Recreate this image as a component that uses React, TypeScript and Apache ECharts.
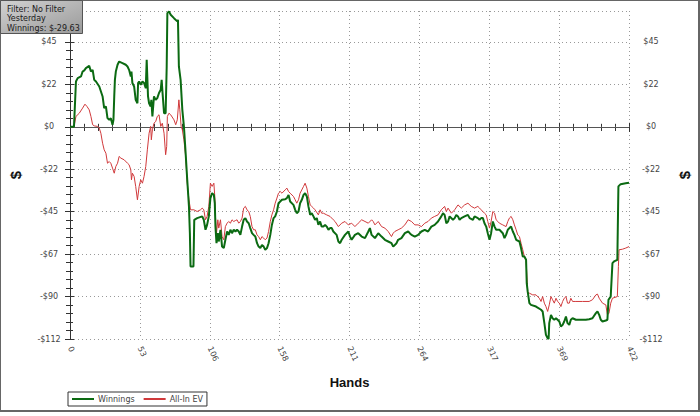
import React, { useEffect, useRef } from "react";
import * as echarts from "echarts";

// [hand, $]
const winnings: [number, number][] = [
  [0, 0], [3, 0], [4.5, 24], [5.8, 25.8], [8.3, 26.7], [9.5, 29.3], [10.8, 29.9], [12, 31.1], [14.5, 32.3], [15.8, 29.3],
  [17.1, 30.2], [18.3, 24.9], [19.6, 24], [22.1, 21.4], [24.6, 16.1], [25.8, 9.9], [27.1, 10.8], [28.3, 4.6], [29.6, 3.7], [30.8, 4.6],
  [32.1, 1.1], [32.8, 3.7], [33.4, 16.1], [33.9, 24.9], [34.6, 29.3], [35.9, 32.9], [37.1, 34.6], [39.6, 33.8], [42.1, 32.9], [43.4, 32],
  [44.6, 30.2], [45.9, 26.7], [46.4, 29.3], [47.1, 23.2], [48.4, 21.4], [49.6, 14.3], [50.9, 12.5], [51.4, 23.2], [52.2, 24], [53.4, 22.3],
  [54.7, 24], [55.9, 23.2], [57.2, 20.5], [57.9, 35.5], [58.9, 16.1], [59.7, 12.5], [60.9, 10.8], [61.4, 14.3], [62.2, 5.5], [63.4, 16.1],
  [64.7, 14.3], [65.9, 15.2], [67.2, 17.9], [68.5, 19.6], [69.2, 24.9], [69.7, 19.6], [71, 7.2], [72.2, 7.2], [73, 32], [73.5, 60.3],
  [74.7, 61.2], [76, 59.4], [78.5, 57.6], [81, 55.9], [81.5, 56.7], [82.2, 32], [83.5, 24.9], [84.8, 9], [86, 0.2], [87.3, -14],
  [88.5, -28.1], [89.8, -42.2], [90.5, -56.4], [91, -74.1], [93.2, -74.1], [93.8, -49.3], [96, -48.4], [99.8, -47.5], [101, -49.3], [102.3, -54.6],
  [103.5, -52], [104.8, -47.5], [106, -37.8], [107.3, -35.2], [108.6, -36.1], [109.3, -40.5], [109.8, -52.9], [110.6, -61.7], [111.6, -56.4], [112.3, -60.8],
  [113.6, -54.6], [114.8, -63.5], [116.1, -64.3], [117.3, -59.9], [118.6, -55.5], [119.8, -57.3], [121.1, -54.6], [122.3, -56.4], [123.6, -54.6], [124.9, -55.5],
  [126.1, -54.6], [127.4, -55.5], [128.6, -57.3], [129.9, -52.9], [131.1, -49.3], [132.4, -48.4], [133.6, -50.2], [134.9, -51.1], [136.1, -53.7], [137.4, -56.4],
  [138.6, -57.3], [139.9, -58.2], [141.2, -61.7], [142.4, -63.5], [143.7, -64.3], [144.9, -62.6], [146.2, -63.5], [147.4, -65.2], [148.7, -64.3], [149.9, -61.7],
  [151.2, -57.3], [152.4, -52], [153.7, -48.4], [154.9, -47.5], [156.2, -44.9], [157.4, -40.5], [158.7, -39.6], [160, -38.7], [162.5, -38.4], [163.7, -37.8],
  [165, -36.1], [166.2, -39.6], [168.7, -41.4], [170, -44], [171.2, -45.8], [172.5, -44.9], [173.7, -40.5], [175, -38.7], [176.3, -36.1], [177.5, -35.2],
  [178.8, -36.9], [180, -42.2], [181.3, -46.7], [182.5, -45.8], [183.8, -47.5], [185, -49.3], [186.3, -48.4], [187.5, -52], [188.8, -50.2], [190, -52.9],
  [191.3, -52.9], [192.6, -52], [193.8, -52.9], [195.1, -54.6], [196.3, -53.7], [197.6, -53.7], [198.8, -55.5], [201.3, -57.3], [202.6, -60.8], [203.9, -61.7],
  [205.1, -59.9], [207.6, -57.3], [210.1, -55.5], [211.4, -58.2], [212.6, -59.9], [215.1, -57.3], [217.6, -56.4], [220.2, -58.2], [222.7, -59], [225.2, -55.5],
  [226.4, -53.7], [227.7, -57.3], [230.2, -59], [232.7, -56.4], [235.2, -58.2], [237.7, -59.9], [240.2, -60.8], [242.7, -61.7], [244, -63.5], [246.5, -61.7],
  [247.7, -59.9], [250.2, -59], [252.8, -56.4], [255.3, -55.5], [256.5, -56.4], [257.8, -57.3], [260.3, -58.2], [262.8, -57.3], [265.3, -55.5], [267.8, -54.6],
  [270.3, -55.5], [272.8, -52.9], [275.3, -52], [277.8, -50.2], [280.3, -47.5], [281.6, -45.8], [282.8, -46.7], [284.1, -51.1], [285.4, -50.2], [286.6, -47.5],
  [289.1, -49.3], [290.4, -48.4], [291.6, -46.7], [292.9, -47.5], [294.1, -49.3], [295.4, -48.4], [297.9, -47.5], [300.4, -46.7], [301.7, -48.4], [304.2, -49.3],
  [305.4, -47.5], [307.9, -48.4], [309.2, -49.3], [310.4, -48.4], [311.7, -48.4], [312.9, -51.1], [314.2, -52.9], [315.4, -56.4], [316.7, -59.9], [317.9, -56.4],
  [319.2, -50.2], [320.5, -52.9], [321.7, -54.6], [324.2, -54.6], [326.7, -56.4], [328, -59], [329.2, -57.3], [330.5, -54.6], [331.7, -53.7], [333, -52.9],
  [334.3, -55.5], [335.5, -57.3], [336.8, -59.9], [339.3, -60.8], [340.5, -64.3], [341.8, -68.8], [343, -68.8], [344.3, -70.5], [344.8, -82.9], [345.5, -87.3],
  [346.8, -93.5], [348, -94.4], [351.8, -95.3], [355.6, -97], [356.8, -97.9], [358.1, -104.1], [359.3, -110.3], [360.6, -112.1], [361.3, -112.5], [361.8, -104.1],
  [363.1, -99.7], [364.3, -101.5], [365.6, -102.3], [366.9, -101.5], [368.1, -102.3], [369.4, -103.2], [370.6, -105.9], [371.9, -105], [373.1, -103.2], [374.4, -100.6],
  [375.6, -104.1], [376.9, -105], [378.1, -102.3], [379.4, -101.5], [381.9, -102.3], [384.4, -102.3], [386.9, -102.3], [389.4, -102.3], [391.9, -102], [394.4, -101.5],
  [397, -98.8], [398.2, -97.9], [399.5, -99.7], [400.7, -102.3], [402, -103.2], [404.5, -102.7], [405.7, -102.3], [406.5, -91.7], [408.2, -90], [409.5, -72.3],
  [410.7, -71.4], [413.2, -70.5], [414, -31.6], [415.7, -30.4], [419.5, -29.9], [422, -29.63],
];

const allInEV: [number, number][] = [
  [0, 0], [3, 0], [4.5, 5.5], [7, 7.2], [9.5, 9.9], [11.3, 12], [12.8, 10.8], [14.5, 9], [15.8, 5.5], [17.1, 1.1],
  [18.3, 0.5], [20.8, 0.2], [22.1, -0.7], [23.3, -3.4], [24.6, -8.7], [25.8, -12.2], [27.1, -14], [28.3, -19.3], [29.6, -18.4], [30.8, -19.3],
  [32.1, -21.9], [33.4, -24.6], [34.6, -21], [35.9, -19.3], [37.1, -15.7], [38.4, -16.6], [40.9, -17.5], [43.4, -19.3], [44.6, -20.1], [45.9, -22.8],
  [46.4, -28.1], [47.1, -24.6], [48.4, -26.3], [49.6, -31.6], [50.9, -38.7], [52.2, -31.6], [53.4, -28.1], [54.7, -29.9], [55.9, -26.3], [57.2, -21],
  [58.4, -12.2], [59.7, -3.4], [60.9, 0.2], [61.4, -6.9], [62.2, -1.6], [63.4, 1.9], [64.7, 2.8], [65.9, 5.5], [67.2, 6.4], [68.5, 0.2],
  [69.7, 1.9], [71, -3.4], [72.2, -14.8], [73, -10.4], [73.5, 5.5], [74.7, 7.2], [76, 6.4], [78.5, 3.7], [79.8, 1.1], [81, 3.7],
  [82.2, 14.3], [82.9, 9], [83.9, 0.2], [84.8, -1.6], [86, -6.9], [87.3, -15.7], [88.5, -29.9], [89.8, -38.7], [91, -44], [93.5, -44],
  [96, -44.9], [98.5, -44], [99.8, -43.1], [101, -44], [102.3, -49.3], [103.5, -47.5], [104.8, -42.2], [106, -29.9], [107.3, -31.6], [108.6, -29.9],
  [109.3, -36.9], [109.8, -47.5], [110.6, -56.4], [111.6, -49.3], [112.3, -53.7], [113.6, -49.3], [114.8, -58.2], [116.1, -59.9], [117.3, -52.9], [118.6, -51.1],
  [119.8, -50.2], [121.1, -51.1], [122.3, -49.3], [123.6, -50.2], [124.9, -49.7], [126.1, -49.3], [127.4, -51.1], [128.6, -50.2], [129.9, -48.4], [131.1, -43.1],
  [132.4, -42.2], [133.6, -44], [134.9, -44.9], [136.1, -47.5], [137.4, -52.9], [138.6, -54.6], [139.9, -54.6], [141.2, -57.3], [142.4, -58.2], [143.7, -59.9],
  [144.9, -58.2], [146.2, -59], [147.4, -59.9], [148.7, -59], [149.9, -55.5], [151.2, -50.2], [152.4, -46.7], [153.7, -44], [154.9, -40.5], [156.2, -37.8],
  [157.4, -35.2], [158.7, -34.3], [160, -35.2], [162.5, -33.4], [163.7, -32.5], [165, -34.3], [166.2, -35.2], [168.7, -36.9], [170, -38.7], [171.2, -40.5],
  [172.5, -38.7], [173.7, -35.2], [176.3, -31.6], [177.5, -29.9], [178.8, -32.5], [180, -36.9], [181.3, -41.4], [182.5, -42.2], [183.8, -43.1], [185, -44],
  [187.5, -46.7], [188.8, -44], [190, -45.8], [191.3, -45.8], [193.8, -46.7], [196.3, -47.5], [198.8, -49.3], [200.1, -50.2], [202.6, -52.9], [205.1, -51.1],
  [207.6, -50.2], [210.1, -52], [212.6, -51.1], [215.1, -52.9], [217.6, -51.1], [220.2, -49.3], [222.7, -50.2], [225.2, -51.1], [227.7, -49.3], [228.9, -50.2],
  [230.2, -52], [232.7, -50.2], [235.2, -52.9], [237.7, -53.7], [240.2, -55.5], [242.7, -58.2], [244, -56.4], [245.2, -55.5], [247.7, -54.6], [250.2, -53.7],
  [252.8, -52], [255.3, -49.3], [257.8, -50.2], [260.3, -52], [262.8, -52], [265.3, -52.9], [267.8, -51.1], [270.3, -50.2], [272.8, -48.4], [275.3, -47.5],
  [277.8, -46.7], [280.3, -44], [282.8, -42.2], [284.1, -44.9], [285.4, -43.1], [287.9, -45.8], [290.4, -44], [292.9, -41.4], [295.4, -43.1], [297.9, -41.4],
  [300.4, -40.5], [302.9, -42.2], [305.4, -43.1], [307.9, -42.2], [309.2, -43.1], [310.4, -44], [312.9, -45.8], [314.2, -46.7], [315.4, -50.2], [316.7, -53.7],
  [317.9, -50.2], [319.2, -44.9], [320.5, -45.8], [321.7, -49.3], [323, -50.2], [324.2, -51.1], [326.7, -52], [329.2, -52.9], [330.5, -50.2], [331.7, -48.4],
  [333, -47.5], [334.3, -49.3], [335.5, -52], [336.8, -54.6], [338, -57.3], [339.3, -58.2], [340.5, -61.7], [341.8, -65.2], [343, -68.8], [344.3, -70.5],
  [345.5, -87.3], [346.8, -88.2], [349.3, -89.1], [351.8, -89.1], [354.3, -90.9], [355.6, -92.6], [356.8, -90], [358.1, -93.5], [359.3, -95.3], [360.6, -97.9],
  [361.8, -94.4], [363.1, -90], [364.3, -91.7], [365.6, -93.5], [366.9, -90.9], [368.1, -92.6], [369.4, -93.5], [370.6, -95.3], [371.9, -92.6], [373.1, -90.9],
  [374.4, -90], [375.6, -93.5], [376.9, -93.5], [378.1, -90.9], [379.4, -92.6], [381.9, -92.6], [386.9, -92.6], [391.9, -92.6], [394.4, -91.7], [397, -89.1],
  [398.2, -88.7], [399.5, -90.9], [402, -93.5], [404.5, -94.4], [405.7, -99.7], [406.9, -98.8], [408.2, -93.5], [409.5, -90.9], [413.2, -90], [414, -74.1],
  [414.5, -65.2], [417, -64.9], [419.5, -64.3], [422, -63.5],
];

const seriesNames = ["Winnings", "All-In EV"];
const infoLines = ["Filter: No Filter", "Yesterday", "Winnings: $-29.63"];
const xMin = 0;
const xMax = 422;
const xInterval = 52.75;
const yMin = -112.5;
const yMax = 61.4;
const yInterval = 22.5;

const FONT = "DejaVu Sans";

export default function App() {
  const ref = useRef<HTMLDivElement>(null);
  useEffect(() => {
    if (!ref.current) return;
    const chart = echarts.init(ref.current, null, { renderer: "svg" });
    const yFmt = (v: number) => {
      if (Math.abs(v - Math.round(v / yInterval) * yInterval) > 0.01) return "";
      const t = Math.trunc(v);
      return v < 0 ? "-$" + Math.abs(t) : "$" + t;
    };
    const tickStyle = { color: "#333", width: 1 };
    const baseX = {
      type: "value" as const,
      min: xMin,
      max: xMax,
      interval: xInterval,
    };
    const baseY = {
      type: "value" as const,
      min: yMin,
      max: yMax,
      interval: yInterval,
    };
    chart.setOption({
      animation: false,
      backgroundColor: "#fff",
      grid: { left: 69, right: 70, top: 11, bottom: 77, containLabel: false },
      legend: {
        left: 68,
        top: 392,
        orient: "horizontal",
        data: seriesNames,
        icon: "rect",
        itemWidth: 22,
        itemHeight: 2,
        itemGap: 9,
        padding: [3, 4, 3, 4],
        borderColor: "#333",
        borderWidth: 1,
        borderRadius: 0,
        textStyle: { fontFamily: FONT, fontSize: 8, color: "#444", padding: [0, 0, 0, -1] },
      },
      xAxis: [
        {
          ...baseX,
          position: "bottom",
          axisLine: { show: true, lineStyle: { color: "#333" } },
          axisTick: { show: true, inside: false, length: 5, lineStyle: tickStyle },
          minorTick: { show: true, splitNumber: 5, length: 4, lineStyle: tickStyle },
          axisLabel: {
            rotate: -65,
            margin: 8,
            fontFamily: FONT,
            fontSize: 8,
            color: "#444",
            formatter: (v: number) => String(Math.round(v)),
          },
          splitLine: { show: true, lineStyle: { color: "#999", type: [1, 3] } },
          name: "Hands",
          nameLocation: "middle",
          nameGap: 37,
          nameTextStyle: { fontFamily: "Liberation Sans", fontWeight: "bold", fontSize: 13, color: "#111" },
        },
        {
          ...baseX,
          position: "bottom",
          axisLine: { show: false },
          axisTick: { show: true, inside: true, length: 4, lineStyle: tickStyle },
          minorTick: { show: true, splitNumber: 5, length: 3, lineStyle: tickStyle },
          axisLabel: { show: false },
          splitLine: { show: false },
        },
        {
          ...baseX,
          position: "top",
          axisLine: { show: true, lineStyle: { color: "#333" } },
          axisTick: { show: true, inside: true, length: 5, lineStyle: tickStyle },
          minorTick: { show: true, splitNumber: 5, length: 4, lineStyle: tickStyle },
          axisLabel: { show: false },
          splitLine: { show: false },
        },
      ],
      yAxis: [
        {
          ...baseY,
          position: "left",
          axisLine: { show: true, lineStyle: { color: "#333" } },
          axisTick: { show: true, inside: false, length: 5, lineStyle: tickStyle },
          minorTick: { show: true, splitNumber: 5, length: 4, lineStyle: tickStyle },
          axisLabel: {
            margin: 21,
            align: "center",
            fontFamily: FONT,
            fontSize: 8,
            color: "#444",
            showMaxLabel: false,
            formatter: yFmt,
          },
          splitLine: { show: true, lineStyle: { color: "#999", type: [1, 3] } },
          name: "$",
          nameLocation: "middle",
          nameGap: 47,
          nameTextStyle: { fontFamily: "Liberation Sans", fontWeight: "bold", fontSize: 15, color: "#111" },
        },
        {
          ...baseY,
          position: "right",
          axisLine: { show: true, lineStyle: { color: "#333" } },
          axisTick: { show: true, inside: false, length: 4, lineStyle: tickStyle },
          minorTick: { show: true, splitNumber: 5, length: 3, lineStyle: tickStyle },
          axisLabel: {
            margin: 22,
            align: "center",
            fontFamily: FONT,
            fontSize: 8,
            color: "#444",
            showMaxLabel: false,
            formatter: yFmt,
          },
          splitLine: { show: false },
          name: "$",
          nameLocation: "middle",
          nameGap: 48,
          nameTextStyle: { fontFamily: "Liberation Sans", fontWeight: "bold", fontSize: 15, color: "#111" },
        },
        {
          ...baseY,
          position: "right",
          axisLine: { show: false },
          axisTick: { show: true, inside: true, length: 4, lineStyle: tickStyle },
          minorTick: { show: true, splitNumber: 5, length: 3, lineStyle: tickStyle },
          axisLabel: { show: false },
          splitLine: { show: false },
        },
      ],
      series: [
        {
          name: "All-In EV",
          type: "line",
          xAxisIndex: 0,
          yAxisIndex: 0,
          data: allInEV,
          symbol: "none",
          color: "#d0393b",
          lineStyle: { color: "#d0393b", width: 1 },
          z: 3,
          markLine: {
            silent: true,
            symbol: ["none", "none"],
            label: { show: false },
            lineStyle: { color: "#555", type: "solid", width: 1 },
            data: [{ yAxis: 0 }],
            z: 1,
          },
        },
        {
          name: "Winnings",
          type: "line",
          xAxisIndex: 0,
          yAxisIndex: 0,
          data: winnings,
          symbol: "none",
          color: "#0b6a12",
          lineStyle: { color: "#0b6a12", width: 2 },
          z: 4,
        },
      ],
      graphic: [
        {
          type: "rect",
          shape: { x: 0, y: 0, width: 699, height: 411 },
          style: { fill: "none", stroke: "#666", lineWidth: 2 },
          silent: true,
          z: 0,
        },
        {
          type: "rect",
          z: 100,
          shape: { x: 0.5, y: 0.5, width: 82, height: 33 },
          style: {
            fill: new echarts.graphic.LinearGradient(0, 0, 1, 1, [
              { offset: 0, color: "#d2d2d2" },
              { offset: 1, color: "#9a9a9a" },
            ]),
            stroke: "#555",
            lineWidth: 1,
          },
        },
        ...infoLines.map((t, i) => ({
          type: "text",
          z: 101,
          x: 7,
          y: 9 + i * 9.5,
          style: {
            text: t,
            font: `8px "${FONT}"`,
            fill: "#1a1a1a",
            verticalAlign: "middle",
          },
        })),
      ],
    });
    return () => chart.dispose();
  }, []);
  return (
    <div
      ref={ref}
      style={{ position: "fixed", left: 0, top: 0, width: 700, height: 416, background: "#fff" }}
    />
  );
}
